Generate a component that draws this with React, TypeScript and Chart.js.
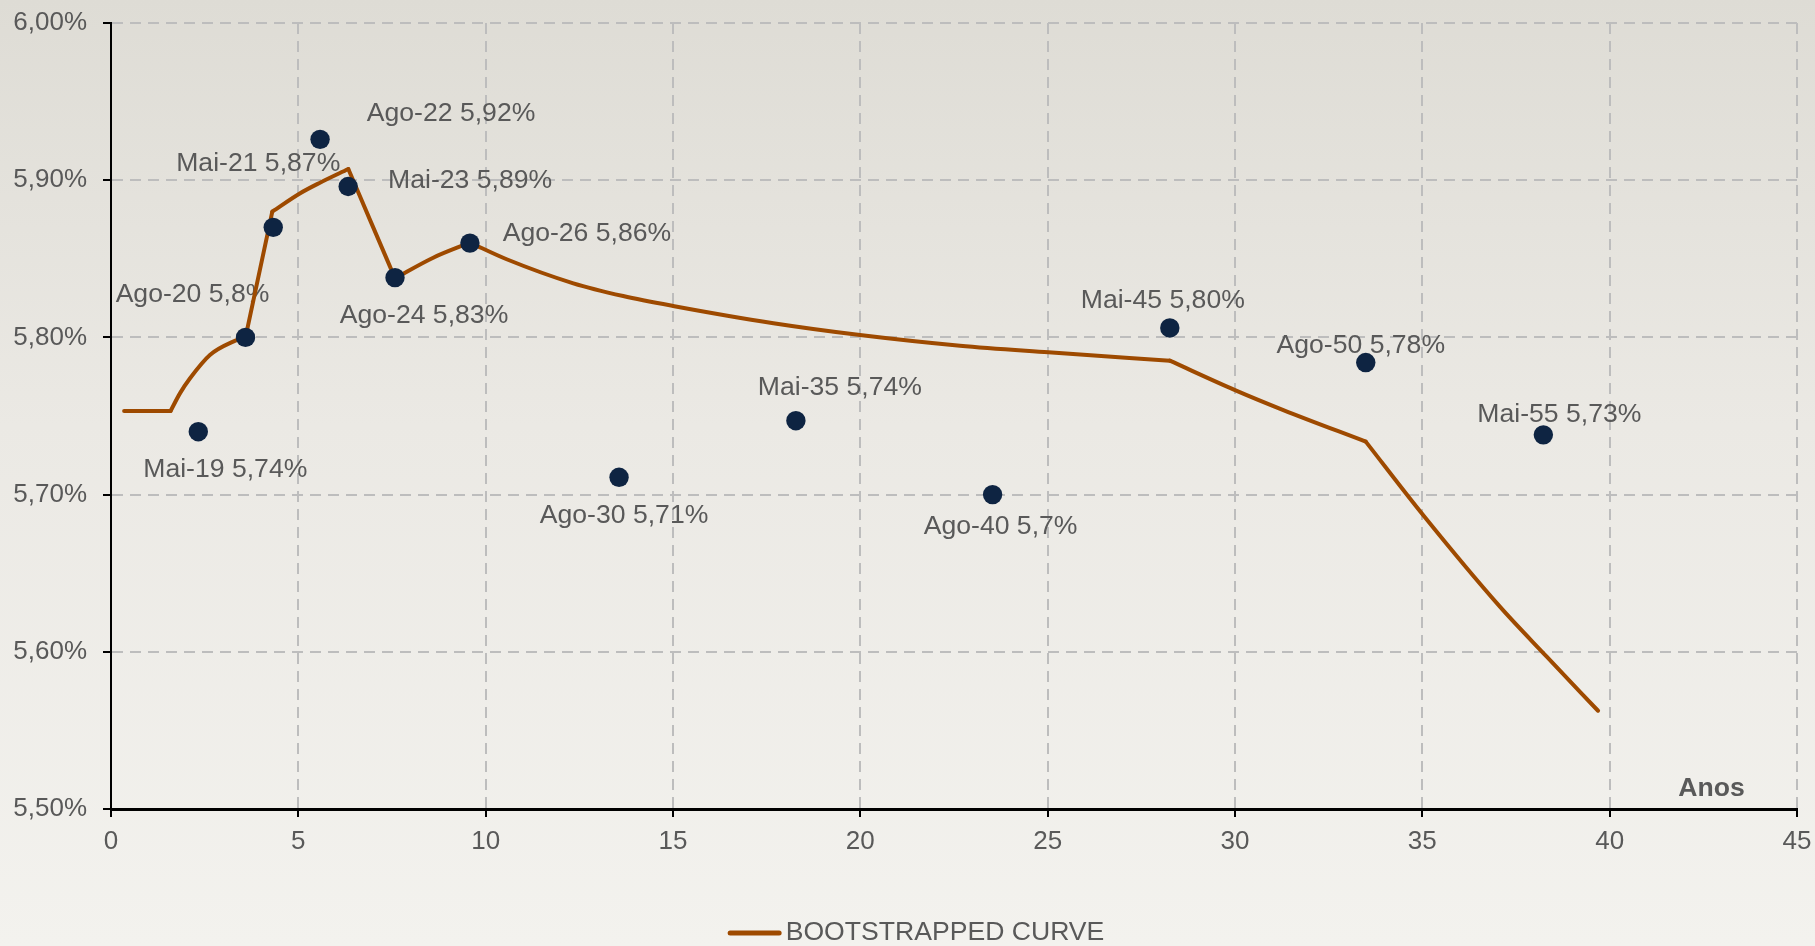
import React, { useEffect, useRef } from "react";
import { Chart, registerables } from "chart.js";

Chart.register(...registerables);

// ---- Data ----
const pointNames = ["Mai-19", "Ago-20", "Mai-21", "Ago-22", "Mai-23", "Ago-24", "Ago-26", "Ago-30", "Mai-35", "Ago-40", "Mai-45", "Ago-50", "Mai-55"];
const pointRateLabels = ["5,74%", "5,8%", "5,87%", "5,92%", "5,89%", "5,83%", "5,86%", "5,71%", "5,74%", "5,7%", "5,80%", "5,78%", "5,73%"];
const pointYears = [2.33, 3.59, 4.33, 5.58, 6.33, 7.58, 9.58, 13.56, 18.28, 23.53, 28.26, 33.49, 38.23];
const pointRates = [5.740, 5.800, 5.870, 5.926, 5.896, 5.838, 5.860, 5.711, 5.747, 5.700, 5.806, 5.784, 5.738];

const curveYears = [0.35, 1.59, 1.84, 2.11, 2.64, 3.26, 3.59, 4.305, 5.05, 5.578, 6.334, 6.95, 7.58, 8.6, 9.58, 10.56, 12.34, 13.67, 15.0, 17.68, 19.99, 22.66, 25.02, 28.26, 30.0, 31.29, 33.49, 35.02, 37.07, 38.32, 39.69];
const curveRates = [5.7532, 5.7532, 5.7644, 5.7740, 5.7888, 5.7973, 5.800, 5.880, 5.8917, 5.8984, 5.9071, 5.8727, 5.8376, 5.8507, 5.8603, 5.8497, 5.8344, 5.8263, 5.820, 5.809, 5.8015, 5.7947, 5.7905, 5.7852, 5.7665, 5.7538, 5.7337, 5.687, 5.6287, 5.5969, 5.5625];
// indices in the curve arrays where the bootstrapped curve has a corner
const curveKinks = [1, 6, 7, 10, 12, 14, 23, 26];

const seriesName = "BOOTSTRAPPED CURVE";
const xAxisTitle = "Anos";
const xMin = 0, xMax = 45, xStep = 5;
const yMin = 5.5, yMax = 6.0, yStep = 0.1;

// label placement (pixel offsets of each label centre from its point)
const labelOffsets: [number, number][] = [
  [27, 38], [-53, -43], [-15, -64], [131, -26], [122, -6], [29, 38], [117, -9],
  [5, 38], [44, -33], [8, 32], [-7, -27], [-5, -17], [16, -20],
];

// ---- Styles ----
const FONT = "Arial, 'Liberation Sans', sans-serif";
const TEXT = "#595959";
const CURVE = "#9e4a00";
const DOT = "#0e2442";
const GRID = "#bdbdbd";
const LABEL_SIZE = 26.6;

const formatPct = (v: number) => v.toFixed(2).replace(".", ",") + "%";

function curveSegments() {
  const bounds = [0, ...curveKinks, curveYears.length - 1];
  const segs: { x: number; y: number }[][] = [];
  for (let s = 0; s < bounds.length - 1; s++) {
    const seg: { x: number; y: number }[] = [];
    for (let i = bounds[s]; i <= bounds[s + 1]; i++) seg.push({ x: curveYears[i], y: curveRates[i] });
    segs.push(seg);
  }
  return segs;
}

const overlayPlugin = {
  id: "overlay",
  beforeDatasetsDraw(chart: any) {
    const ctx = chart.ctx;
    const xs = chart.scales.x;
    const ys = chart.scales.y;
    ctx.save();
    ctx.font = `${LABEL_SIZE}px ${FONT}`;
    ctx.fillStyle = TEXT;
    ctx.textAlign = "center";
    ctx.textBaseline = "middle";
    pointYears.forEach((yr, i) => {
      const px = xs.getPixelForValue(yr) + labelOffsets[i][0];
      const py = ys.getPixelForValue(pointRates[i]) + labelOffsets[i][1];
      ctx.fillText(`${pointNames[i]} ${pointRateLabels[i]}`, px, py);
    });
    ctx.font = `bold ${LABEL_SIZE}px ${FONT}`;
    ctx.fillText(xAxisTitle, chart.chartArea.right - 85.5, chart.chartArea.bottom - 20);
    ctx.restore();
  },
  afterDraw(chart: any) {
    const ctx = chart.ctx;
    ctx.save();
    ctx.font = `${LABEL_SIZE}px ${FONT}`;
    const tw = ctx.measureText(seriesName).width;
    const lineLen = 54, gap = 4;
    const total = lineLen + gap + tw;
    const x0 = chart.width / 2 + 8.5 - total / 2;
    const y0 = chart.height - 13;
    ctx.strokeStyle = CURVE;
    ctx.lineWidth = 5;
    ctx.lineCap = "round";
    ctx.beginPath();
    ctx.moveTo(x0 + 2.5, y0);
    ctx.lineTo(x0 + lineLen - 2.5, y0);
    ctx.stroke();
    ctx.fillStyle = TEXT;
    ctx.textAlign = "left";
    ctx.textBaseline = "middle";
    ctx.fillText(seriesName, x0 + lineLen + gap, y0);
    ctx.restore();
  },
};

export default function App() {
  const ref = useRef<HTMLCanvasElement | null>(null);

  useEffect(() => {
    if (!ref.current) return;
    const curveSets = curveSegments().map((seg) => ({
      label: seriesName,
      type: "line",
      data: seg,
      borderColor: CURVE,
      borderWidth: 4,
      pointRadius: 0,
      pointHoverRadius: 0,
      cubicInterpolationMode: "monotone",
      showLine: true,
      fill: false,
      borderCapStyle: "round",
      borderJoinStyle: "round",
    }));
    const chart = new Chart(ref.current, {
      type: "scatter",
      data: {
        datasets: [
          {
            label: "Pontos",
            data: pointYears.map((x, i) => ({ x, y: pointRates[i] })),
            backgroundColor: DOT,
            borderColor: DOT,
            pointRadius: 9.7,
            pointHoverRadius: 9.7,
            borderWidth: 0,
            showLine: false,
          },
          ...(curveSets as any[]),
        ],
      },
      options: {
        responsive: false,
        animation: false,
        layout: { padding: { top: 23, right: 18, bottom: 0, left: 0 } },
        plugins: {
          legend: { display: false },
          tooltip: { enabled: false },
        },
        scales: {
          x: {
            type: "linear",
            min: xMin,
            max: xMax,
            afterFit: (s: any) => {
              s.height = 137;
              s.paddingLeft = 0;
              s.paddingRight = 0;
            },
            ticks: {
              stepSize: xStep,
              color: TEXT,
              font: { family: FONT, size: 26 },
              padding: 9,
              maxRotation: 0,
            },
            grid: {
              color: GRID,
              lineWidth: 2,
              tickLength: 8,
              tickColor: "#000",
              tickWidth: 2,
            },
            border: { display: true, color: "#000", width: 3, dash: [11, 7] },
          },
          y: {
            type: "linear",
            min: yMin,
            max: yMax,
            afterFit: (s: any) => {
              s.width = 111;
              s.paddingTop = 0;
              s.paddingBottom = 0;
            },
            ticks: {
              stepSize: yStep,
              color: TEXT,
              font: { family: FONT, size: 26 },
              padding: 16,
              callback: (v: any) => formatPct(Number(v)),
            },
            grid: {
              color: GRID,
              lineWidth: 2,
              tickLength: 8,
              tickColor: "#000",
              tickWidth: 2,
            },
            border: { display: true, color: "#000", width: 2, dash: [11, 7] },
          },
        },
      } as any,
      plugins: [overlayPlugin],
    });
    return () => chart.destroy();
  }, []);

  return (
    <div
      style={{
        position: "fixed",
        left: 0,
        top: 0,
        width: 1815,
        height: 946,
        background: "linear-gradient(to bottom, #dedcd5 0%, #ebe9e4 45%, #f3f2ee 100%)",
      }}
    >
      <canvas ref={ref} width={1815} height={946} style={{ display: "block" }} />
    </div>
  );
}
